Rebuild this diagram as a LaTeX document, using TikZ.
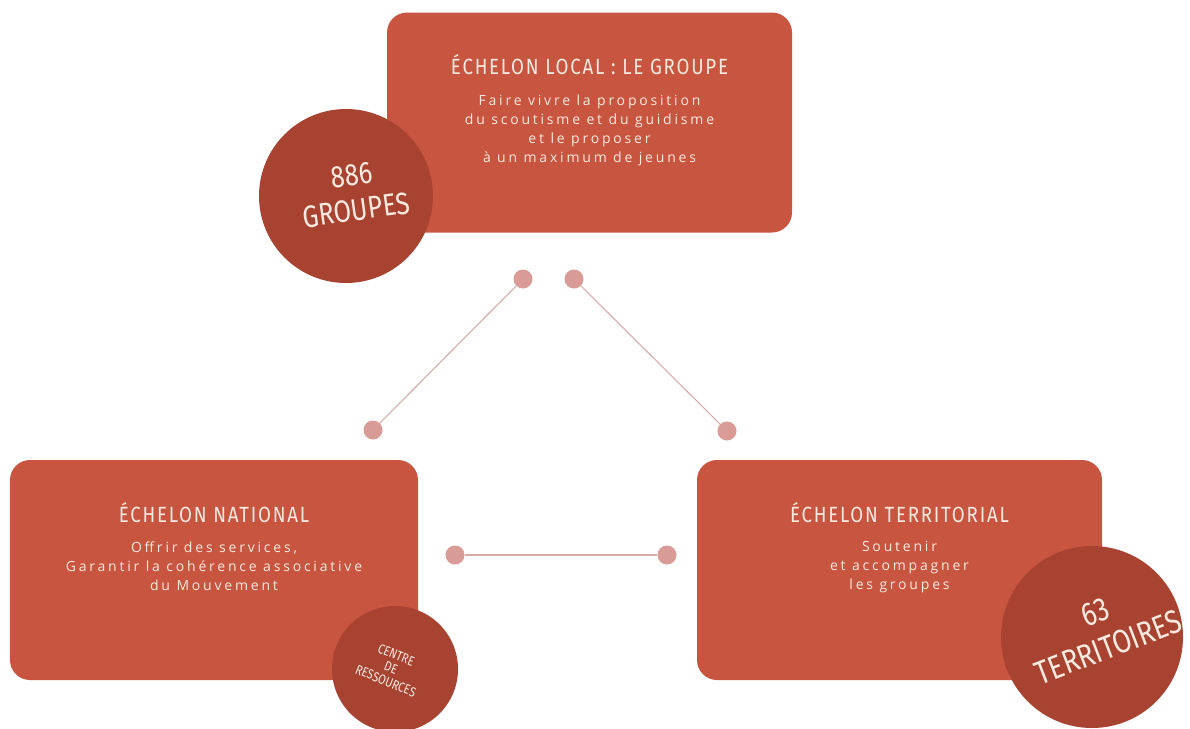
\documentclass[tikz,border=0pt]{standalone}
\usepackage{fontspec}
\usepackage{tikz}
\usetikzlibrary{positioning}
\newfontfamily\titlefont[FakeStretch=0.85,LetterSpace=8]{Fira Sans}
\newfontfamily\chiffrefont[FakeStretch=0.82]{Fira Sans}
\newfontfamily\bodyfont[LetterSpace=20]{Open Sans}
\definecolor{boxred}{RGB}{200,85,64}
\definecolor{circred}{RGB}{168,67,50}
\definecolor{dotpink}{RGB}{216,155,150}
\definecolor{linkpink}{RGB}{214,172,168}
\definecolor{cream}{RGB}{250,234,224}

\begin{document}
\begin{tikzpicture}[x=1pt, y=-1pt,
    echelon/.style={rectangle, rounded corners=20pt, fill=boxred, minimum width=405pt, minimum height=220pt},
    titre/.style={text=cream, font=\titlefont\fontsize{22}{22}\selectfont, inner sep=0pt},
    texte/.style={text=cream, font=\bodyfont\fontsize{14}{19}\selectfont, align=center, inner sep=0pt},
    chiffre/.style={circle, fill=circred, text=cream, align=center, inner sep=0pt},
    point/.style={circle, fill=dotpink, minimum size=19pt, inner sep=0pt},
    lien/.style={draw=linkpink, line width=1.1pt}]
    \useasboundingbox (0,0) rectangle (1190,728);

    \node[echelon] (local) at (589.5,122.5) {};
    \node[echelon, minimum width=408pt] (national) at (214,570) {};
    \node[echelon] (territorial) at (899.5,570) {};

    \node[titre, below=42pt of local.north] (localtitre) {ÉCHELON LOCAL : LE GROUPE};
    \node[texte, below=20pt of localtitre] (localtexte) {Faire vivre la proposition\\du scoutisme et du guidisme\\et le proposer\\à un maximum de jeunes};
    \node[titre, below=42pt of national.north] (nationaltitre) {ÉCHELON NATIONAL};
    \node[texte, below=19pt of nationaltitre] (nationaltexte) {Offrir des services,\\Garantir la cohérence associative\\du Mouvement};
    \node[titre, below=42pt of territorial.north] (territorialtitre) {ÉCHELON TERRITORIAL};
    \node[texte, below=19pt of territorialtitre] (territorialtexte) {Soutenir\\et accompagner\\les groupes};

    \node[chiffre, minimum size=174pt] (groupes) at (346,196) {};
    \node[text=cream, align=center, rotate=8, font=\chiffrefont\fontsize{31}{35}\selectfont] (groupestexte) at (354,193) {886\\GROUPES};
    \node[chiffre, minimum size=182pt] (territoires) at (1092,637) {};
    \node[text=cream, align=center, rotate=21, font=\chiffrefont\fontsize{33}{37}\selectfont] (territoirestexte) at (1102,630) {63\\TERRITOIRES};
    \node[chiffre, minimum size=126pt] (centre) at (395,669) {};
    \node[text=cream, align=center, rotate=-22, font=\chiffrefont\fontsize{13.5}{14}\selectfont] (centretexte) at (391,668) {CENTRE\\DE\\RESSOURCES};

    \node[point] (p1) at (523,279) {};
    \node[point] (p2) at (574,279) {};
    \node[point] (p3) at (373,430) {};
    \node[point] (p4) at (727,431) {};
    \node[point] (p5) at (455,555) {};
    \node[point] (p6) at (667,555) {};

    \draw[lien] (p1) -- (p3); % local - national
    \draw[lien] (p2) -- (p4); % local - territorial
    \draw[lien] (p5) -- (p6); % national - territorial
\end{tikzpicture}
\end{document}
